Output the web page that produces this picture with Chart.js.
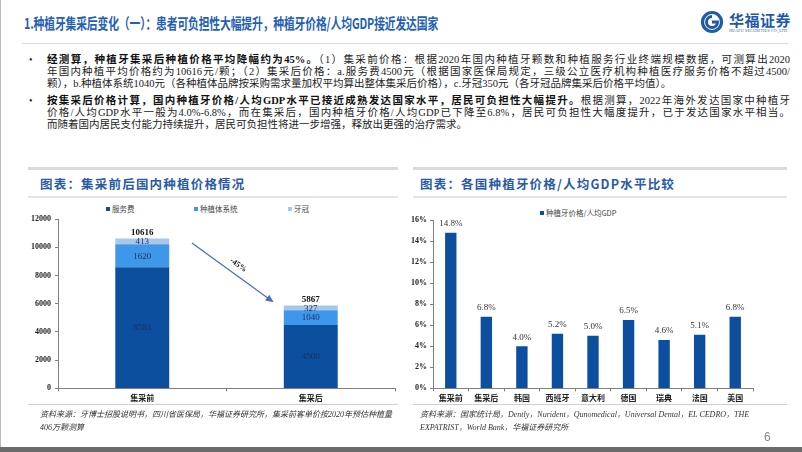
<!DOCTYPE html>
<html><head><meta charset="utf-8">
<script src="https://cdn.jsdelivr.net/npm/chart.js@4.4.1/dist/chart.umd.min.js"></script>
<style>
body{margin:0;width:802px;height:452px;overflow:hidden;background:#fff;position:relative;font-family:"Liberation Serif","Noto Sans CJK SC",serif;color:#222;}
.abs{position:absolute;}
.title{left:24px;top:12px;font-family:"Noto Sans CJK SC",sans-serif;font-weight:700;font-size:15px;color:#2460b2;transform:scaleX(0.72);transform-origin:left top;white-space:nowrap;letter-spacing:-0.2px;}
.hr{height:2px;background:#d9d9d9;}
.line{left:47px;width:743px;font-size:10.5px;line-height:12px;height:12px;text-align:justify;text-align-last:justify;font-family:"Liberation Serif","Noto Sans CJK SC",serif;color:#222;overflow:visible;}
.line.last{text-align-last:left;}
.line b{font-family:"Liberation Serif","Noto Sans CJK SC",serif;font-weight:700;color:#111;}
.bul{left:29px;font-size:10px;line-height:12px;}
.ptitle{font-family:"Noto Sans CJK SC",sans-serif;font-weight:700;font-size:12.5px;color:#2a5aa4;letter-spacing:1.2px;white-space:nowrap;}
.src{font-size:8px;font-style:italic;color:#333;line-height:13px;font-family:"Liberation Serif","Noto Sans CJK SC",serif;white-space:nowrap;}
.leg{font-size:7.5px;color:#444;font-family:"Noto Sans CJK SC",sans-serif;white-space:nowrap;}
.leg i{display:inline-block;width:4px;height:4px;margin-right:2px;vertical-align:middle;position:relative;top:-1px;}
</style></head>
<body>
<div class="abs" style="left:0;top:0;width:1px;height:452px;background:#bbb"></div>
<div class="abs" style="left:0;top:447px;width:802px;height:5px;background:#6b6b6b"></div>

<div class="abs title">1.种植牙集采后变化（一）：患者可负担性大幅提升，种植牙价格/人均GDP接近发达国家</div>

<svg class="abs" style="left:700px;top:10px" width="28" height="24" viewBox="0 0 28 24">
  <circle cx="12" cy="12" r="9.5" fill="none" stroke="#1f5aa8" stroke-width="3.2"/>
  <path d="M12 6.5 A5.5 5.5 0 1 0 17.5 12 L12 12" fill="none" stroke="#1f5aa8" stroke-width="3"/>
</svg>
<div class="abs" style="left:729px;top:9px;font-family:'Noto Sans CJK SC',sans-serif;font-weight:700;font-size:15px;color:#1f5aa8;letter-spacing:0.5px;white-space:nowrap;">华福证券</div>
<div class="abs" style="left:729px;top:28px;font-size:4px;color:#1f5aa8;white-space:nowrap;letter-spacing:0.2px;">HUAFU SECURITIES CO.,LTD.</div>

<div class="abs hr" style="left:22px;top:43px;width:766px;height:1px;"></div>

<div class="abs bul" style="top:54px">•</div>
<div class="abs line" style="top:54px"><b>经测算，种植牙集采后种植价格平均降幅约为45%。</b>（1）集采前价格：根据2020年国内种植牙颗数和种植服务行业终端规模数据，可测算出2020</div>
<div class="abs line" style="top:66px">年国内种植平均价格约为10616元/颗；（2）集采后价格：a.服务费4500元（根据国家医保局规定，三级公立医疗机构种植医疗服务价格不超过4500/</div>
<div class="abs line last" style="top:78px">颗），b.种植体系统1040元（各种植体品牌按采购需求量加权平均算出整体集采后价格），c.牙冠350元（各牙冠品牌集采后价格平均值）。</div>
<div class="abs bul" style="top:95px">•</div>
<div class="abs line" style="top:95px"><b>按集采后价格计算，国内种植牙价格/人均GDP水平已接近成熟发达国家水平，居民可负担性大幅提升。</b>根据测算，2022年海外发达国家中种植牙</div>
<div class="abs line" style="top:107px">价格/人均GDP水平一般为4.0%-6.8%，而在集采后，国内种植牙价格/人均GDP已下降至6.8%，居民可负担性大幅度提升，已于发达国家水平相当。</div>
<div class="abs line last" style="top:119px">而随着国内居民支付能力持续提升，居民可负担性将进一步增强，释放出更强的治疗需求。</div>

<!-- left panel -->
<div class="abs hr" style="left:28px;top:167px;width:370px;height:3px;"></div>
<div class="abs ptitle" style="left:40px;top:174px;">图表：集采前后国内种植价格情况</div>
<div class="abs hr" style="left:28px;top:196px;width:370px;height:2px;background:#e4e4e4"></div>
<div id="legL"></div>
<div class="abs" style="left:20px;top:200px;"><canvas id="c1" width="380" height="205"></canvas></div>
<div class="abs hr" style="left:28px;top:404px;width:370px;height:1px;background:#cfcfcf"></div>
<div class="abs src" style="left:40px;top:408px;">资料来源：牙博士招股说明书，四川省医保局，华福证券研究所，集采前客单价按2020年预估种植量<br>406万颗测算</div>

<!-- right panel -->
<div class="abs hr" style="left:413px;top:167px;width:374px;height:3px;"></div>
<div class="abs ptitle" style="left:420px;top:174px;">图表：各国种植牙价格/人均GDP水平比较</div>
<div class="abs hr" style="left:413px;top:196px;width:374px;height:2px;background:#e4e4e4"></div>
<div id="legR"></div>
<div class="abs" style="left:410px;top:200px;"><canvas id="c2" width="385" height="205"></canvas></div>
<div class="abs hr" style="left:413px;top:404px;width:374px;height:1px;background:#cfcfcf"></div>
<div class="abs src" style="left:420px;top:408px;">资料来源：国家统计局，Dently，Nurident，Qunomedical，Universal Dental，EL CEDRO，THE<br>EXPATRIST，World Bank，华福证券研究所</div>

<div class="abs" style="left:764px;top:430px;font-family:'Liberation Sans',sans-serif;font-size:12px;color:#888;">6</div>

<script>
// ---------- data ----------
const leftCategories = ['集采前', '集采后'];
const leftSeriesNames = ['服务费', '种植体系统', '牙冠'];
const serviceFee = [8583, 4500];
const implantSystem = [1620, 1040];
const crown = [413, 327];
const leftYMax = 12000;
const leftYStep = 2000;

const rightCategories = ['集采前', '集采后', '韩国', '西班牙', '意大利', '德国', '瑞典', '法国', '美国'];
const rightSeriesName = '种植牙价格/人均GDP';
const priceToGdp = [14.8, 6.8, 4.0, 5.2, 5.0, 6.5, 4.6, 5.1, 6.8];
const rightYMax = 16;
const rightYStep = 2;

// ---------- style ----------
const colDark = '#0b4f9e';
const colMid = '#3f97ea';
const colLight = '#a9c7e6';
const leftColors = [colDark, colMid, colLight];
const numFont = '"Liberation Serif", serif';
const cjkFont = '"Noto Sans CJK SC", sans-serif';

// HTML legends built from series names
function legend(el, names, colors, positions, top) {
  const host = document.getElementById(el);
  names.forEach((n, i) => {
    const d = document.createElement('div');
    d.className = 'abs leg';
    d.style.left = positions[i] + 'px';
    d.style.top = top + 'px';
    d.innerHTML = '<i style="background:' + colors[i] + '"></i>' + n;
    host.appendChild(d);
  });
}
legend('legL', leftSeriesNames, leftColors, [106, 194, 288], 203);
legend('legR', [rightSeriesName], [colDark], [540], 207);

const axisGrid = { display: true, drawOnChartArea: false, drawTicks: true, tickLength: 3, color: '#7f7f7f', lineWidth: 1 };
const axisBorder = { display: true, color: '#7f7f7f', width: 1 };

// ---------- left chart ----------
const stackLabels = {
  id: 'stackLabels',
  afterDatasetsDraw(chart) {
    const ctx = chart.ctx;
    ctx.save();
    ctx.textAlign = 'center';
    ctx.textBaseline = 'middle';
    chart.data.datasets.forEach((ds, di) => {
      const meta = chart.getDatasetMeta(di);
      meta.data.forEach((bar, i) => {
        const mid = (bar.y + bar.base) / 2;
        ctx.font = '9px ' + numFont;
        ctx.fillStyle = '#1e2f5e';
        ctx.fillText(String(ds.data[i]), bar.x, mid + 0.5);
      });
    });
    // totals
    const lastMeta = chart.getDatasetMeta(chart.data.datasets.length - 1);
    lastMeta.data.forEach((bar, i) => {
      const total = chart.data.datasets.reduce((s, ds) => s + ds.data[i], 0);
      ctx.font = 'bold 9px ' + numFont;
      ctx.fillStyle = '#111';
      ctx.fillText(String(total), bar.x, bar.y - 5.5);
    });
    // arrow between totals
    const xs = chart.scales.x, ys = chart.scales.y;
    const t0 = chart.data.datasets.reduce((s, ds) => s + ds.data[0], 0);
    const t1 = chart.data.datasets.reduce((s, ds) => s + ds.data[1], 0);
    const cw = xs.getPixelForValue(1) - xs.getPixelForValue(0);
    const x0 = xs.getPixelForValue(0) + 0.295 * cw;
    const x1 = xs.getPixelForValue(1) - 0.22 * cw;
    const y0 = ys.getPixelForValue(t0 * 0.97);
    const y1 = ys.getPixelForValue(t1 * 1.04);
    const ang = Math.atan2(y1 - y0, x1 - x0);
    ctx.strokeStyle = '#4a70bd';
    ctx.fillStyle = '#4a70bd';
    ctx.lineWidth = 1.3;
    ctx.beginPath();
    ctx.moveTo(x0, y0);
    ctx.lineTo(x1 - 6 * Math.cos(ang), y1 - 6 * Math.sin(ang));
    ctx.stroke();
    ctx.beginPath();
    ctx.moveTo(x1, y1);
    ctx.lineTo(x1 - 8 * Math.cos(ang) + 3.5 * Math.sin(ang), y1 - 8 * Math.sin(ang) - 3.5 * Math.cos(ang));
    ctx.lineTo(x1 - 8 * Math.cos(ang) - 3.5 * Math.sin(ang), y1 - 8 * Math.sin(ang) + 3.5 * Math.cos(ang));
    ctx.closePath();
    ctx.fill();
    const pct = Math.round((1 - t1 / t0) * 100);
    const mx = (x0 + x1) / 2 + 5.5, my = (y0 + y1) / 2 - 7.5;
    ctx.translate(mx, my);
    ctx.rotate(ang);
    ctx.font = 'bold 8px ' + numFont;
    ctx.fillStyle = '#222';
    ctx.fillText('-' + pct + '%', 0, 0);
    ctx.restore();
  }
};

new Chart(document.getElementById('c1'), {
  type: 'bar',
  data: {
    labels: leftCategories,
    datasets: [
      { label: leftSeriesNames[0], data: serviceFee, backgroundColor: colDark },
      { label: leftSeriesNames[1], data: implantSystem, backgroundColor: colMid },
      { label: leftSeriesNames[2], data: crown, backgroundColor: colLight }
    ]
  },
  options: {
    responsive: false, animation: false, devicePixelRatio: 1,
    layout: { padding: { top: 19, right: 5, bottom: 0, left: 0 } },
    plugins: { legend: { display: false }, tooltip: { enabled: false } },
    datasets: { bar: { categoryPercentage: 1, barPercentage: 0.32 } },
    scales: {
      x: {
        stacked: true,
        grid: Object.assign({}, axisGrid, { offset: true }),
        border: axisBorder,
        ticks: { font: { family: cjkFont, size: 8, weight: 'bold' }, color: '#222', padding: 2, maxRotation: 0 }
      },
      y: {
        stacked: true, min: 0, max: leftYMax,
        grid: axisGrid, border: axisBorder,
        afterFit(s) { s.width = 38; },
        ticks: { stepSize: leftYStep, font: { family: numFont, size: 8, weight: 'bold' }, color: '#222', padding: 4,
                 callback: v => String(v) }
      }
    }
  },
  plugins: [stackLabels]
});

// ---------- right chart ----------
const topLabels = {
  id: 'topLabels',
  afterDatasetsDraw(chart) {
    const ctx = chart.ctx;
    ctx.save();
    ctx.textAlign = 'center';
    ctx.textBaseline = 'middle';
    ctx.font = '9px ' + numFont;
    ctx.fillStyle = '#333';
    const ds = chart.data.datasets[0];
    chart.getDatasetMeta(0).data.forEach((bar, i) => {
      ctx.fillText(ds.data[i].toFixed(1) + '%', bar.x, bar.y - 9);
    });
    ctx.restore();
  }
};

new Chart(document.getElementById('c2'), {
  type: 'bar',
  data: {
    labels: rightCategories,
    datasets: [{ label: rightSeriesName, data: priceToGdp, backgroundColor: colDark }]
  },
  options: {
    responsive: false, animation: false, devicePixelRatio: 1,
    layout: { padding: { top: 20, right: 42, bottom: 0, left: 0 } },
    plugins: { legend: { display: false }, tooltip: { enabled: false } },
    datasets: { bar: { categoryPercentage: 1, barPercentage: 0.32 } },
    scales: {
      x: {
        grid: Object.assign({}, axisGrid, { offset: true }),
        border: axisBorder,
        ticks: { font: { family: cjkFont, size: 8, weight: 'bold' }, color: '#222', padding: 2, maxRotation: 0, autoSkip: false }
      },
      y: {
        min: 0, max: rightYMax,
        grid: axisGrid, border: axisBorder,
        afterFit(s) { s.width = 23; },
        ticks: { stepSize: rightYStep, font: { family: numFont, size: 8, weight: 'bold' }, color: '#222', padding: 3,
                 callback: v => v + '%' }
      }
    }
  },
  plugins: [topLabels]
});
</script>
</body></html>
